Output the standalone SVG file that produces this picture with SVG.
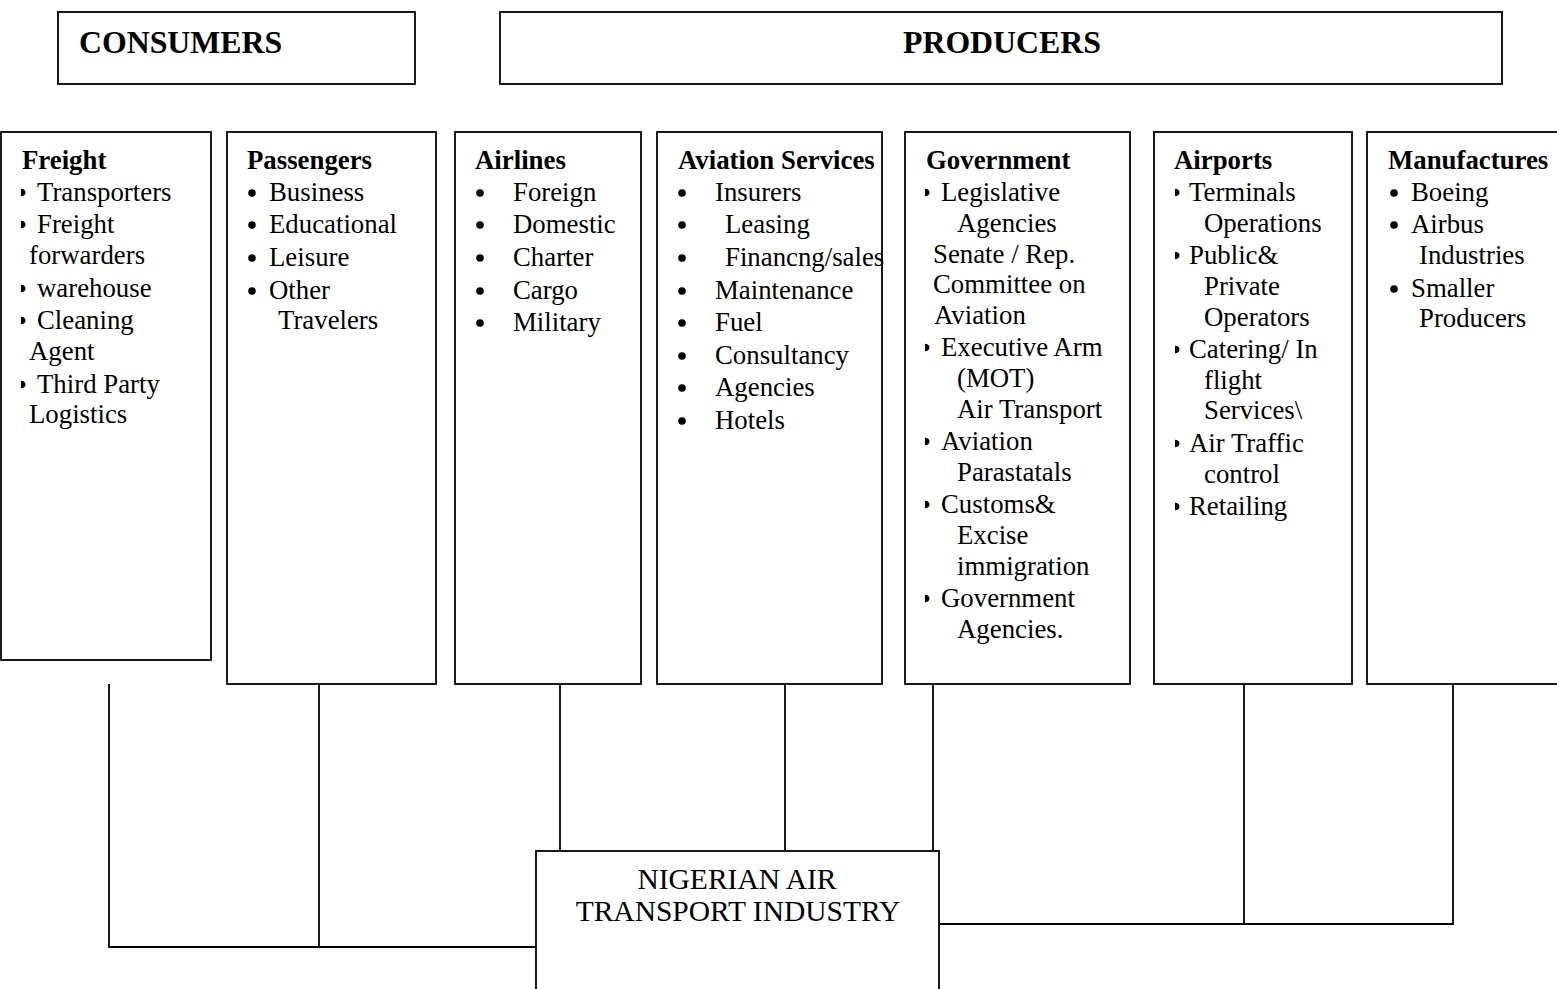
<svg xmlns="http://www.w3.org/2000/svg" width="1557" height="989" viewBox="0 0 1557 989">
<style>
  .box{fill:#fff;stroke:#000;stroke-width:1.8}
  .ln{fill:none;stroke:#000;stroke-width:1.8}
  text{font-family:"Liberation Serif","Times New Roman",serif;fill:#000}
  .hd{font-size:31.8px;font-weight:bold}
  .tt{font-size:26.8px;font-weight:bold}
  .it{font-size:26.8px}
  .ctr{font-size:29.5px;text-anchor:middle}
  .bl{fill:#000}
</style>
<defs>
  <path id="tri" d="M0,-3.8 A4.5,3.8 0 0 1 0,3.8 Z"/>
</defs>
<rect width="1557" height="989" fill="#fff"/>

<g id="connectors">
  <path class="ln" d="M109,684 V947 H536"/>
  <path class="ln" d="M319,684 V947"/>
  <path class="ln" d="M560,684 V853"/>
  <path class="ln" d="M785,684 V853"/>
  <path class="ln" d="M933,684 V853"/>
  <path class="ln" d="M939,924 H1453 V684"/>
  <path class="ln" d="M1244,684 V924"/>
</g>

<g id="consumers">
  <rect class="box" x="58" y="12" width="357" height="72"/>
  <text class="hd" x="79" y="53">CONSUMERS</text>
</g>
<g id="producers">
  <rect class="box" x="500" y="12" width="1002" height="72"/>
  <text class="hd" x="903" y="53">PRODUCERS</text>
</g>

<g id="freight">
  <rect class="box" x="1" y="132" width="210" height="528"/>
  <text class="tt" x="22" y="169">Freight</text>
  <use href="#tri" x="21" y="192.5"/>
  <use href="#tri" x="21" y="224.5"/>
  <use href="#tri" x="21" y="288.5"/>
  <use href="#tri" x="21" y="320.5"/>
  <use href="#tri" x="21" y="384.5"/>
  <text class="it" x="37" y="201">Transporters</text>
  <text class="it" x="37" y="233">Freight</text>
  <text class="it" x="29" y="264">forwarders</text>
  <text class="it" x="37" y="297">warehouse</text>
  <text class="it" x="37" y="329">Cleaning</text>
  <text class="it" x="29" y="360">Agent</text>
  <text class="it" x="37" y="393">Third Party</text>
  <text class="it" x="29" y="423">Logistics</text>
</g>

<g id="passengers">
  <rect class="box" x="227" y="132" width="209" height="552"/>
  <text class="tt" x="247" y="169">Passengers</text>
  <circle class="bl" cx="252" cy="193" r="3.8"/>
  <circle class="bl" cx="252" cy="225" r="3.8"/>
  <circle class="bl" cx="252" cy="258" r="3.8"/>
  <circle class="bl" cx="252" cy="291" r="3.8"/>
  <text class="it" x="269" y="201">Business</text>
  <text class="it" x="269" y="233">Educational</text>
  <text class="it" x="269" y="266">Leisure</text>
  <text class="it" x="269" y="299">Other</text>
  <text class="it" x="278" y="329">Travelers</text>
</g>

<g id="airlines">
  <rect class="box" x="455" y="132" width="186" height="552"/>
  <text class="tt" x="475" y="169">Airlines</text>
  <circle class="bl" cx="480" cy="193" r="3.8"/>
  <circle class="bl" cx="480" cy="225" r="3.8"/>
  <circle class="bl" cx="480" cy="258" r="3.8"/>
  <circle class="bl" cx="480" cy="291" r="3.8"/>
  <circle class="bl" cx="480" cy="323" r="3.8"/>
  <text class="it" x="513" y="201">Foreign</text>
  <text class="it" x="513" y="233">Domestic</text>
  <text class="it" x="513" y="266">Charter</text>
  <text class="it" x="513" y="299">Cargo</text>
  <text class="it" x="513" y="331">Military</text>
</g>

<g id="aviation-services">
  <rect class="box" x="657" y="132" width="225" height="552"/>
  <text class="tt" x="678" y="169">Aviation Services</text>
  <circle class="bl" cx="682" cy="193" r="3.8"/>
  <circle class="bl" cx="682" cy="225" r="3.8"/>
  <circle class="bl" cx="682" cy="258" r="3.8"/>
  <circle class="bl" cx="682" cy="291" r="3.8"/>
  <circle class="bl" cx="682" cy="323" r="3.8"/>
  <circle class="bl" cx="682" cy="356" r="3.8"/>
  <circle class="bl" cx="682" cy="388" r="3.8"/>
  <circle class="bl" cx="682" cy="421" r="3.8"/>
  <text class="it" x="715" y="201">Insurers</text>
  <text class="it" x="725" y="233">Leasing</text>
  <text class="it" x="725" y="266">Financng/sales</text>
  <text class="it" x="715" y="299">Maintenance</text>
  <text class="it" x="715" y="331">Fuel</text>
  <text class="it" x="715" y="364">Consultancy</text>
  <text class="it" x="715" y="396">Agencies</text>
  <text class="it" x="715" y="429">Hotels</text>
</g>

<g id="government">
  <rect class="box" x="905" y="132" width="225" height="552"/>
  <text class="tt" x="926" y="169">Government</text>
  <use href="#tri" x="925" y="192.5"/>
  <use href="#tri" x="925" y="347.5"/>
  <use href="#tri" x="925" y="441.5"/>
  <use href="#tri" x="925" y="504.5"/>
  <use href="#tri" x="925" y="598.5"/>
  <text class="it" x="941" y="201">Legislative</text>
  <text class="it" x="957" y="232">Agencies</text>
  <text class="it" x="933" y="263">Senate / Rep.</text>
  <text class="it" x="933" y="293">Committee on</text>
  <text class="it" x="934" y="324">Aviation</text>
  <text class="it" x="941" y="356">Executive Arm</text>
  <text class="it" x="957" y="387">(MOT)</text>
  <text class="it" x="957" y="418">Air Transport</text>
  <text class="it" x="941" y="450">Aviation</text>
  <text class="it" x="957" y="481">Parastatals</text>
  <text class="it" x="941" y="513">Customs&amp;</text>
  <text class="it" x="957" y="544">Excise</text>
  <text class="it" x="957" y="575">immigration</text>
  <text class="it" x="941" y="607">Government</text>
  <text class="it" x="957" y="638">Agencies.</text>
</g>

<g id="airports">
  <rect class="box" x="1154" y="132" width="198" height="552"/>
  <text class="tt" x="1174" y="169">Airports</text>
  <use href="#tri" x="1175" y="192.5"/>
  <use href="#tri" x="1175" y="255.5"/>
  <use href="#tri" x="1175" y="349.5"/>
  <use href="#tri" x="1175" y="443.5"/>
  <use href="#tri" x="1175" y="506.5"/>
  <text class="it" x="1189" y="201">Terminals</text>
  <text class="it" x="1204" y="232">Operations</text>
  <text class="it" x="1189" y="264">Public&amp;</text>
  <text class="it" x="1204" y="295">Private</text>
  <text class="it" x="1204" y="326">Operators</text>
  <text class="it" x="1189" y="358">Catering/ In</text>
  <text class="it" x="1204" y="389">flight</text>
  <text class="it" x="1204" y="419">Services\</text>
  <text class="it" x="1189" y="452">Air Traffic</text>
  <text class="it" x="1204" y="483">control</text>
  <text class="it" x="1189" y="515">Retailing</text>
</g>

<g id="manufactures">
  <rect class="box" x="1367" y="132" width="200" height="552"/>
  <text class="tt" x="1388" y="169">Manufactures</text>
  <circle class="bl" cx="1394" cy="193" r="3.8"/>
  <circle class="bl" cx="1394" cy="225" r="3.8"/>
  <circle class="bl" cx="1394" cy="289" r="3.8"/>
  <text class="it" x="1411" y="201">Boeing</text>
  <text class="it" x="1411" y="233">Airbus</text>
  <text class="it" x="1419" y="264">Industries</text>
  <text class="it" x="1411" y="297">Smaller</text>
  <text class="it" x="1419" y="327">Producers</text>
</g>

<g id="industry">
  <rect class="box" x="536" y="851" width="403" height="150"/>
  <text class="ctr" x="737" y="889">NIGERIAN AIR</text>
  <text class="ctr" x="738" y="921">TRANSPORT INDUSTRY</text>
</g>
</svg>
